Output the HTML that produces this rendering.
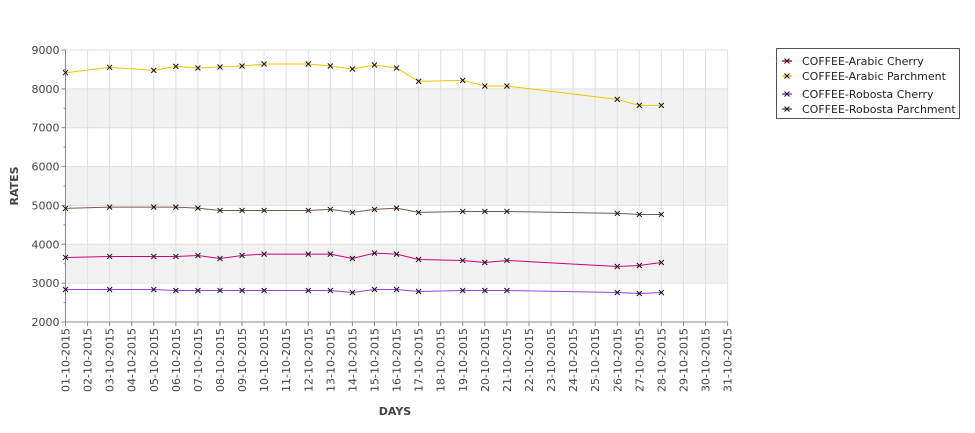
<!DOCTYPE html>
<html><head><meta charset="utf-8"><style>
body{margin:0;background:#fff;font-family:"DejaVu Sans","Liberation Sans",sans-serif;}
svg text{font-family:"DejaVu Sans","Liberation Sans",sans-serif;}
</style></head><body>
<svg width="975" height="429" xmlns="http://www.w3.org/2000/svg">
<g id="bands"></g>
<g id="grid"></g>
<g id="axes"></g>
<g id="series"></g>
<text x="18" y="186" transform="rotate(-90 18 186)" text-anchor="middle" font-size="11" font-weight="bold" fill="#444">RATES</text>
<text x="395" y="415" text-anchor="middle" font-size="11" font-weight="bold" fill="#444">DAYS</text>
<g>
<rect x="776.5" y="48.5" width="183" height="70" fill="#fff" stroke="#555"/>
<g id="legend"></g>
</g>
</svg>
<script>
const days=[1,3,5,6,7,8,9,10,12,13,14,15,16,17,19,20,21,26,27,28];
const arabicCherry=[3661,3687,3687,3687,3712,3635,3712,3747,3747,3747,3635,3773,3747,3609,3584,3532,3584,3429,3455,3532];
const arabicParchment=[8416,8554,8476,8579,8536,8562,8588,8639,8639,8588,8511,8614,8536,8193,8219,8073,8073,7730,7575,7575];
const robustaCherry=[2837,2837,2837,2811,2811,2811,2811,2811,2811,2811,2760,2837,2837,2785,2811,2811,2811,2760,2734,2760];
const robustaParchment=[4923,4957,4957,4957,4931,4871,4871,4871,4871,4897,4820,4897,4931,4820,4845,4845,4845,4794,4768,4768];
const seriesNames=["COFFEE-Arabic Cherry","COFFEE-Arabic Parchment","COFFEE-Robosta Cherry","COFFEE-Robosta Parchment"];
const yTicks=[2000,3000,4000,5000,6000,7000,8000,9000];
const NS="http://www.w3.org/2000/svg";
const X0=65.5,DX=22.07,Y0=322,YTOP=50,VMIN=2000,VMAX=9000;
const xs=d=>X0+(d-1)*DX;
const ys=v=>Y0-(v-VMIN)/(VMAX-VMIN)*(Y0-YTOP);
function mk(tag,attrs,parent){const e=document.createElementNS(NS,tag);for(const k in attrs)e.setAttribute(k,attrs[k]);parent.appendChild(e);return e;}
const bands=document.getElementById('bands'),grid=document.getElementById('grid'),axes=document.getElementById('axes'),ser=document.getElementById('series');
[[3000,4000],[5000,6000],[7000,8000]].forEach(b=>{
 const r=mk('rect',{x:X0,y:ys(b[1]),width:xs(31)-X0,height:ys(b[0])-ys(b[1]),fill:'#f2f2f2'},bands);
 
 
});
for(let d=1;d<=31;d++){
 const l=mk('line',{x1:xs(d),x2:xs(d),y1:YTOP,y2:Y0,stroke:'#e0e0e0'},grid);
 
 
 const t=mk('line',{x1:xs(d),x2:xs(d),y1:Y0,y2:Y0+4,stroke:'#888'},axes);
 
 
 const lab=mk('text',{x:0,y:0,transform:`translate(${xs(d)+4},${Y0+6}) rotate(-90)`,'text-anchor':'end','font-size':'11',fill:'#444'},axes);
 lab.textContent=String(d).padStart(2,'0')+'-10-2015';
 
 
}
yTicks.forEach(v=>{
 const l=mk('line',{x1:X0,x2:xs(31),y1:ys(v),y2:ys(v),stroke:'#e0e0e0'},grid);
 
 
 const t=mk('line',{x1:X0-4,x2:X0,y1:ys(v),y2:ys(v),stroke:'#888'},axes);
 
 
 const lab=mk('text',{x:X0-6,y:ys(v)+4,'text-anchor':'end','font-size':'11',fill:'#444'},axes);
 lab.textContent=v;
 
 
 if(v<VMAX){const m=mk('line',{x1:X0-2,x2:X0,y1:ys(v+500),y2:ys(v+500),stroke:'#888'},axes);
 
 }
});
const ax=mk('path',{d:`M${X0},${YTOP} V${Y0} H${xs(31)}`,fill:'none',stroke:'#888'},axes);


const allSeries=[arabicCherry,arabicParchment,robustaCherry,robustaParchment];
const colors=['#d1007e','#f5c400','#9a40e0','#7a5a4a'];
const slugs=['arabic-cherry','arabic-parchment','robusta-cherry','robusta-parchment'];
allSeries.forEach((vals,i)=>{
 const g=mk('g',{},ser);
 
 
 const pts=vals.map((v,j)=>xs(days[j])+','+ys(v)).join(' ');
 const pl=mk('polyline',{points:pts,fill:'none',stroke:colors[i],'stroke-width':1},g);
 
 
 vals.forEach((v,j)=>{
  const x=xs(days[j]),y=ys(v);
  const p=mk('path',{d:`M${x-2.5},${y-2.5}L${x+2.5},${y+2.5}M${x+2.5},${y-2.5}L${x-2.5},${y+2.5}`,stroke:'#111','stroke-width':1},g);
  
  
 });
});
const leg=document.getElementById('legend');
const ly=[61,76,94,109];
seriesNames.forEach((n,i)=>{
 const g=mk('g',{},leg);
 
 
 mk('line',{x1:782,x2:792,y1:ly[i],y2:ly[i],stroke:colors[i],'stroke-width':1.5},g);
 mk('path',{d:`M${784.5},${ly[i]-2.5}L${789.5},${ly[i]+2.5}M${789.5},${ly[i]-2.5}L${784.5},${ly[i]+2.5}`,stroke:'#111'},g);
 const t=mk('text',{x:802,y:ly[i]+4,'font-size':'11',fill:'#222'},g);
 t.textContent=n;
});
</script>
</body></html>
